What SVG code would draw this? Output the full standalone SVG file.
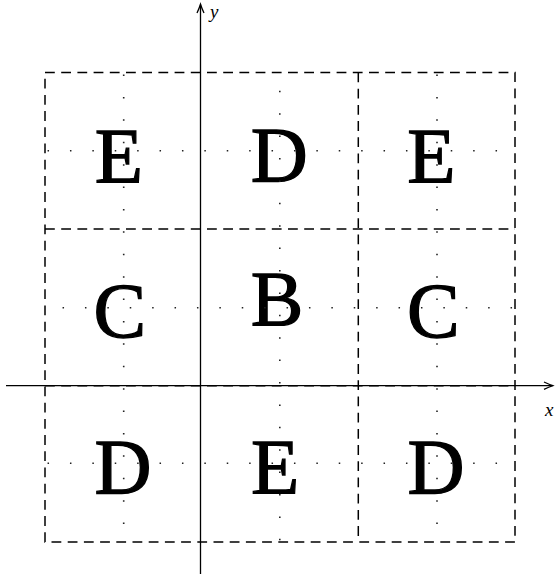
<svg xmlns="http://www.w3.org/2000/svg" width="556" height="581" viewBox="0 0 556 581">
<style>
.dash{fill:none;stroke:#000;stroke-width:1.5;stroke-dasharray:9.8 6.4}
.dot{fill:none;stroke:#222;stroke-width:1.6;stroke-dasharray:1.5 20.9}
.axis{fill:none;stroke:#000;stroke-width:1.3}
.big{font-family:"Liberation Serif","Times New Roman",serif;font-size:79px;fill:#000;stroke:#000;stroke-width:1.3}
.lab{font-family:"Liberation Serif","Times New Roman",serif;font-style:italic;font-size:19px;fill:#000}
</style>
<rect width="556" height="581" fill="#fff"/>
<g id="grid">
<rect class="dash" x="45" y="72.5" width="470" height="469.5"/>
<line class="dash" x1="45" y1="229" x2="515" y2="229"/>
<line class="dash" x1="358.3" y1="72.5" x2="358.3" y2="542"/>
<line class="dash" x1="45" y1="385.7" x2="515" y2="385.7"/>
</g>
<g id="letters">
<g id="cell-1-1"><text class="big" x="94.7" y="181.5">E</text></g>
<g id="cell-1-2"><text class="big" x="250.7" y="181">D</text></g>
<g id="cell-1-3"><text class="big" x="407.3" y="181.5">E</text></g>
<g id="cell-2-1"><text class="big" x="93.5" y="337">C</text></g>
<g id="cell-2-2"><text class="big" x="250.7" y="325">B</text></g>
<g id="cell-2-3"><text class="big" x="407" y="337">C</text></g>
<g id="cell-3-1"><text class="big" x="94.4" y="493">D</text></g>
<g id="cell-3-2"><text class="big" x="251" y="493">E</text></g>
<g id="cell-3-3"><text class="big" x="407.4" y="493">D</text></g>
</g>
<g id="dots">
<line class="dot" x1="123.7" y1="74.55" x2="123.7" y2="542"/>
<line class="dot" x1="437" y1="74.55" x2="437" y2="542"/>
<line class="dot" x1="279.8" y1="90.8" x2="279.8" y2="542"/>
<line class="dot" x1="47.55" y1="150.7" x2="515" y2="150.7"/>
<line class="dot" x1="62.55" y1="307.7" x2="515" y2="307.7"/>
<line class="dot" x1="47.55" y1="463.3" x2="515" y2="463.3"/>
</g>
<g id="connectors">
<line class="axis" x1="200.5" y1="574" x2="200.5" y2="4.5"/>
<path class="axis" d="M197,13 Q199.3,8 200.5,4.2 Q201.7,8 204,13"/>
<line class="axis" x1="6" y1="385.7" x2="552.5" y2="385.7"/>
<path class="axis" d="M544,382 Q549,384.3 552.8,385.7 Q549,387.1 544,389.4"/>
</g>
<text class="lab" x="210" y="18">y</text>
<text class="lab" x="545" y="416">x</text>
</svg>
